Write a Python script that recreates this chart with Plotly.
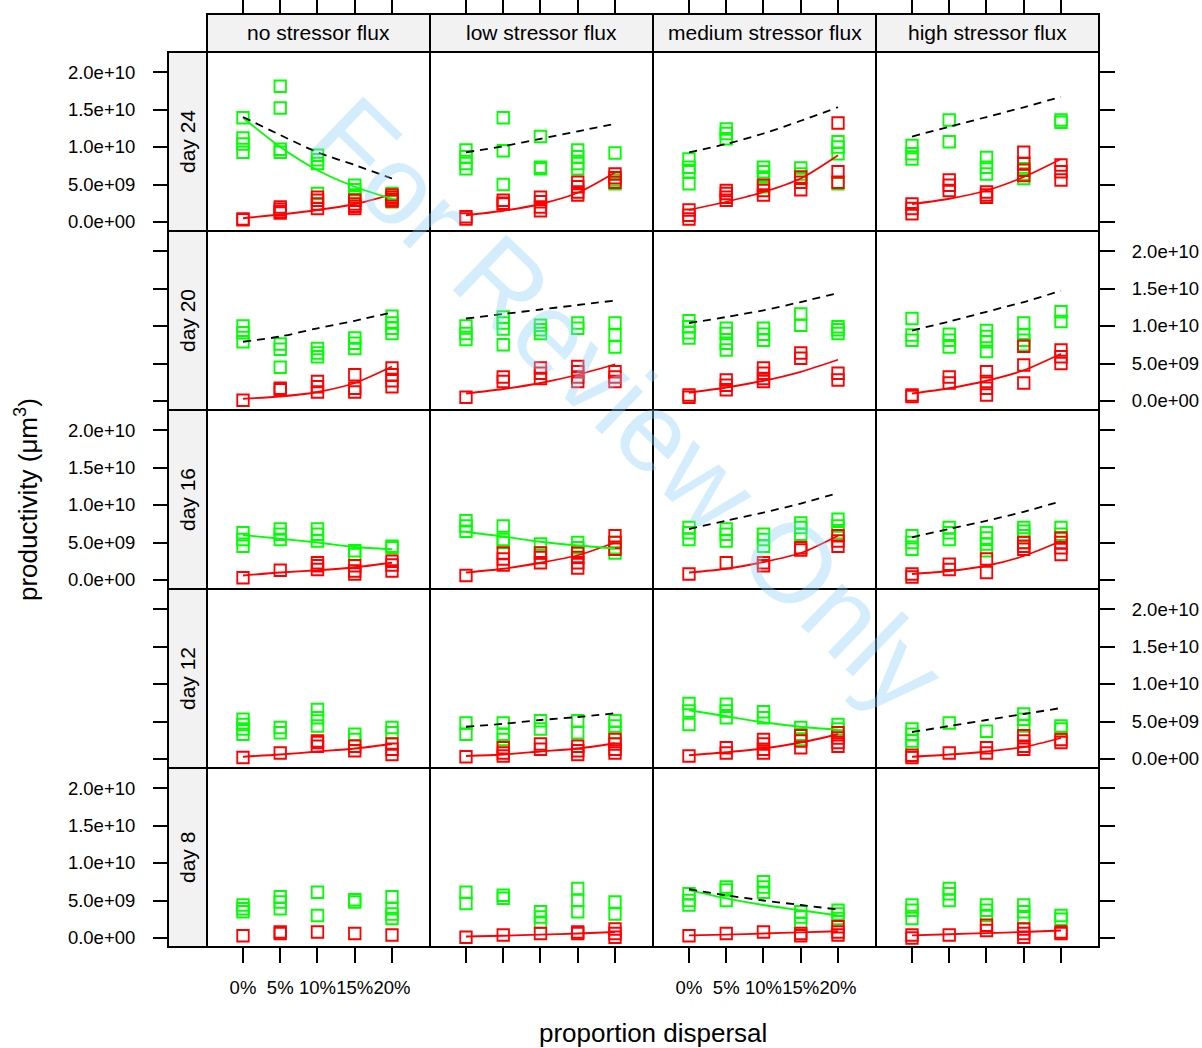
import plotly.graph_objects as go

# ---------------- data (values in units of 1e9 µm^3) ----------------
DAYS = ["day 24", "day 20", "day 16", "day 12", "day 8"]
FLUXES = ["no stressor flux", "low stressor flux", "medium stressor flux", "high stressor flux"]
DISPERSAL = [0, 5, 10, 15, 20]
DISPERSAL_LABELS = ["0%", "5%", "10%", "15%", "20%"]
Y_TICKS = [0, 5e9, 1e10, 1.5e10, 2e10]
Y_TICK_LABELS = ["0.0e+00", "5.0e+09", "1.0e+10", "1.5e+10", "2.0e+10"]
UNIT = 1e9

# observed points: [flux][dispersal level] -> replicate values
GREEN_D24 = [
    [[13.9, 11.2, 10.4, 9.3], [18.1, 15.2, 9.7, 9.3], [8.9, 8.3, 7.8, 3.8], [4.9, 4.3, 3.6, 3.0], [3.8, 3.3, 3.0, 2.7]],
    [[9.6, 8.7, 7.8, 7.1], [13.9, 9.5, 5.0], [11.4, 7.3, 7.1], [9.6, 8.7, 7.8, 7.1], [9.2, 5.6, 5.1]],
    [[8.4, 7.3, 6.7, 5.1], [12.4, 11.8, 11.1], [7.3, 6.7, 6.0, 4.7], [7.2, 6.4, 5.8], [10.7, 10.0, 9.1, 5.1]],
    [[10.2, 9.1, 8.4], [13.6, 10.7], [8.6, 7.3, 6.4], [7.8, 7.1, 6.4, 5.8], [13.6, 13.3]],
]
RED_D24 = [
    [[0.3, 0.4], [2.0, 1.7, 1.4, 1.2], [3.3, 2.9, 2.4, 1.8], [2.9, 2.4, 2.1, 1.8], [3.6, 3.3, 3.0, 2.8]],
    [[0.7, 0.4], [2.9, 2.5, 2.4], [3.3, 2.7, 2.0, 1.5], [5.3, 4.7, 4.0, 3.6], [6.4, 5.9, 5.3]],
    [[1.6, 0.9, 0.4], [4.2, 3.8, 3.3, 2.9], [4.9, 4.2, 3.6], [6.0, 5.3, 4.3], [13.2, 6.7, 5.3]],
    [[2.4, 1.8, 1.1], [5.6, 4.9, 4.2], [4.0, 3.6, 3.3], [9.3, 7.8, 6.9, 6.2], [7.6, 6.7, 5.6]],
]
GREEN_D20 = [
    [[10.0, 9.1, 7.9], [7.6, 6.9, 4.5], [7.0, 6.4, 5.9], [8.4, 7.7, 7.0], [11.3, 10.4, 9.7, 9.0]],
    [[10.0, 9.0, 8.2], [11.2, 10.4, 9.6, 7.5], [10.1, 9.5, 9.0], [10.4, 9.7], [10.4, 8.8, 7.2]],
    [[10.7, 9.9, 9.1, 8.4], [9.7, 9.0, 7.7, 6.8], [9.7, 8.9, 8.1], [11.6, 10.1], [9.9, 9.5, 9.0]],
    [[11.0, 8.8, 8.1], [8.9, 8.1, 7.2], [9.4, 8.6, 7.9, 6.6], [10.4, 8.8, 8.1, 7.5], [11.9, 10.6]],
]
RED_D20 = [
    [[0.1], [1.7, 1.5], [2.6, 1.9, 1.2], [3.5, 1.7, 1.2], [4.4, 3.5, 2.7, 1.9]],
    [[0.5], [3.2, 2.6], [4.4, 3.7, 3.0], [4.6, 3.9, 3.2, 2.6], [3.9, 3.2, 2.6]],
    [[0.8, 0.5], [2.8, 2.1, 1.5], [4.4, 3.7, 3.0, 2.6], [6.4, 5.7], [3.7, 2.8]],
    [[0.8, 0.6], [3.2, 2.4], [3.9, 2.6, 1.7, 0.8], [7.3, 4.8, 2.4], [6.8, 5.9, 5.0]],
]
GREEN_D16 = [
    [[6.3, 5.4, 4.5], [6.8, 6.1, 5.4], [6.8, 6.1, 5.2], [3.9, 3.4], [4.5, 4.3]],
    [[7.9, 7.2, 6.5], [7.2, 5.4, 5.0], [4.8, 3.6], [5.0, 4.3], [5.0, 4.3, 3.6]],
    [[7.0, 6.3, 5.4], [6.8, 6.1, 5.2], [6.1, 5.4, 4.5], [7.6, 7.0, 6.1], [8.1, 7.2, 6.3]],
    [[5.9, 5.0, 4.1], [7.0, 6.3, 5.4], [6.3, 5.6, 4.8, 3.9], [7.0, 6.5, 5.9, 5.0], [7.0, 6.1]],
]
RED_D16 = [
    [[0.3], [1.3], [2.3, 1.9, 1.4], [1.9, 1.2, 0.8], [2.5, 2.0, 1.2]],
    [[0.6], [3.6, 2.8, 2.0], [3.6, 3.0, 2.3], [3.6, 3.0, 2.3, 1.6], [5.9, 5.0, 4.1]],
    [[0.8], [2.3], [2.3, 1.9], [4.3, 4.0], [5.9, 5.2, 4.5]],
    [[0.8, 0.4], [2.1, 1.4], [2.8, 1.0], [5.0, 4.5, 4.1], [5.6, 5.0, 4.3, 3.4]],
]
GREEN_D12 = [
    [[5.3, 4.6, 4.0, 3.3], [4.2, 3.5], [6.6, 5.5, 4.4], [3.3, 2.6], [4.2, 3.5]],
    [[4.8, 3.3], [4.8, 3.3, 2.6], [5.1, 4.0], [5.1, 3.5], [5.1, 4.4, 3.5]],
    [[7.4, 6.4, 4.6], [7.3, 6.4, 5.5], [6.3, 5.5], [4.2, 3.3, 2.6], [4.6, 4.0]],
    [[4.0, 3.3, 2.4, 1.7], [4.8], [3.7], [6.0, 5.3, 4.4], [4.4, 4.0]],
]
RED_D12 = [
    [[0.2], [0.8], [2.4, 2.2, 1.7], [1.7, 1.1], [2.0, 1.3, 0.6]],
    [[0.3], [1.5, 0.8, 0.4], [2.0, 1.3], [1.7, 1.1, 0.6], [2.6, 2.0, 1.3, 0.8]],
    [[0.4], [1.5, 0.8], [2.6, 2.0, 1.3, 0.8], [3.1, 2.4, 1.5], [3.5, 2.8, 2.2, 1.7]],
    [[0.5, 0.2], [0.8], [1.5, 0.8], [3.1, 2.4, 1.7, 1.3], [2.6, 2.2]],
]
GREEN_D8 = [
    [[4.4, 3.9, 3.5], [5.5, 4.8, 3.9], [6.1, 3.0], [5.1, 4.8], [5.5, 3.9, 3.2, 2.6]],
    [[6.1, 4.6], [5.7, 5.3], [3.5, 2.8, 2.1], [6.6, 5.0, 3.5], [4.8, 3.2]],
    [[5.9, 5.0, 4.4], [6.8, 6.4, 5.0], [7.5, 6.8, 6.1], [3.5, 2.8, 1.9], [3.7, 3.2, 2.6]],
    [[4.4, 3.7, 2.6], [6.6, 5.9, 5.0], [4.4, 3.7, 3.0], [4.4, 3.5, 2.7], [3.0, 2.5]],
]
RED_D8 = [
    [[0.3], [0.8, 0.6], [0.8], [0.6], [0.4]],
    [[0.1], [0.4], [0.6], [0.8, 0.6], [1.2, 0.6, 0.1]],
    [[0.3], [0.6], [0.8], [0.6, 0.3], [1.5, 0.8, 0.4]],
    [[0.4, 0.0], [0.4], [1.7, 1.0], [1.2, 0.6, 0.1], [0.8, 0.6]],
]

# fitted curves read at each dispersal level: [flux] -> 5 values (None = no curve)
RED_FIT_D24 = [[0.5, 1.0, 1.6, 2.4, 3.7], [0.9, 1.5, 2.4, 3.9, 6.6], [1.6, 2.7, 4.0, 5.8, 8.9], [2.4, 3.1, 4.2, 6.0, 8.4]]
GREEN_FIT_D24 = [[13.9, 10.0, 6.9, 4.7, 3.1], None, None, None]
DASH_FIT_D24 = [[14.0, 11.6, 9.3, 7.6, 5.8], [9.3, 10.1, 11.1, 12.1, 13.1], [9.3, 10.4, 11.8, 13.5, 15.3], [11.4, 12.7, 14.0, 15.3, 16.7]]

RED_FIT_D20 = [[0.3, 0.6, 1.2, 2.4, 4.6], [1.0, 1.6, 2.4, 3.5, 4.9], [1.1, 1.8, 2.7, 3.9, 5.5], [1.0, 1.7, 2.7, 4.1, 6.3]]
GREEN_FIT_D20 = [None, None, None, None]
DASH_FIT_D20 = [[7.9, 8.6, 9.7, 10.7, 11.8], [11.0, 11.6, 12.2, 12.8, 13.4], [10.4, 11.2, 12.1, 13.2, 14.4], [9.4, 10.6, 11.9, 13.2, 14.7]]

RED_FIT_D16 = [[0.6, 1.0, 1.3, 1.7, 2.3], [1.0, 1.5, 2.3, 3.3, 5.0], [1.0, 1.5, 2.4, 3.6, 5.9], [0.8, 1.2, 1.9, 3.2, 5.2]]
GREEN_FIT_D16 = [[6.0, 5.5, 5.0, 4.4, 4.1], [6.4, 5.8, 5.1, 4.6, 4.2], None, None]
DASH_FIT_D16 = [None, None, [6.8, 7.9, 9.0, 10.2, 11.6], [5.7, 6.8, 7.9, 9.1, 10.5]]

RED_FIT_D12 = [[0.3, 0.6, 1.0, 1.4, 2.0], [0.4, 0.6, 1.0, 1.4, 2.1], [0.5, 0.9, 1.4, 2.2, 3.3], [0.3, 0.6, 1.0, 1.6, 2.8]]
GREEN_FIT_D12 = [None, None, [6.5, 5.7, 4.9, 4.3, 3.9], None]
DASH_FIT_D12 = [None, [4.3, 4.7, 5.2, 5.6, 6.1], None, [3.6, 4.4, 5.2, 6.0, 6.8]]

RED_FIT_D8 = [None, [0.2, 0.3, 0.45, 0.6, 0.8], [0.35, 0.45, 0.6, 0.75, 0.9], [0.35, 0.5, 0.65, 0.8, 1.0]]
GREEN_FIT_D8 = [None, None, [6.4, 5.3, 4.4, 3.7, 3.0], None]
DASH_FIT_D8 = [None, None, [6.5, 5.7, 5.0, 4.4, 3.8], None]

GREEN_PTS = [GREEN_D24, GREEN_D20, GREEN_D16, GREEN_D12, GREEN_D8]
RED_PTS = [RED_D24, RED_D20, RED_D16, RED_D12, RED_D8]
RED_FIT = [RED_FIT_D24, RED_FIT_D20, RED_FIT_D16, RED_FIT_D12, RED_FIT_D8]
GREEN_FIT = [GREEN_FIT_D24, GREEN_FIT_D20, GREEN_FIT_D16, GREEN_FIT_D12, GREEN_FIT_D8]
DASH_FIT = [DASH_FIT_D24, DASH_FIT_D20, DASH_FIT_D16, DASH_FIT_D12, DASH_FIT_D8]

# ---------------- layout geometry ----------------
W, H = 1202, 1048
PL, PR, PT, PB = 168, 1099, 14, 947          # plot area in page px
PANEL_L, PANEL_T = 207, 52
PW, PH = 223, 179
FONT = "Liberation Sans, Arial, Helvetica, sans-serif"
GREEN = "#00FF00"
RED = "#FF0000"


def fx(px):
    return (px - PL) / (PR - PL)


def fy(py):
    return (PB - py) / (PB - PT)


X_RANGE = [-4.83, 25.1]
Y_RANGE = [-1.2e9, 22.67e9]

fig = go.Figure()
layout = dict(
    width=W, height=H,
    margin=dict(l=PL, r=W - PR, t=PT, b=H - PB, pad=0, autoexpand=False),
    paper_bgcolor="white", plot_bgcolor="rgba(0,0,0,0)",
    showlegend=False,
    font=dict(family=FONT, color="black", size=18),
)
shapes = []
annotations = []

for r in range(5):
    for c in range(4):
        k = r * 4 + c + 1
        xs = "x" if k == 1 else f"x{k}"
        ys = "y" if k == 1 else f"y{k}"
        xdom = [fx(PANEL_L + PW * c), fx(PANEL_L + PW * (c + 1))]
        ydom = [fy(PANEL_T + PH * (r + 1)), fy(PANEL_T + PH * r)]

        xa = dict(domain=xdom, range=X_RANGE, anchor=ys, showgrid=False, zeroline=False,
                  showline=False, tickvals=DISPERSAL, ticktext=DISPERSAL_LABELS,
                  ticks="", showticklabels=False, tickcolor="black", tickwidth=1.5,
                  tickangle=0, automargin=False,
                  tickfont=dict(family=FONT, size=18.5, color="black"), fixedrange=True)
        if r == 0:
            xa.update(side="top", anchor="free", position=1, ticks="outside", ticklen=14)
        if r == 4:
            xa.update(side="bottom", ticks="outside", ticklen=15, showticklabels=(c in (0, 2)),
                      ticklabelstandoff=9)
        ya = dict(domain=ydom, range=Y_RANGE, anchor=xs, showgrid=False, zeroline=False,
                  showline=False, tickvals=Y_TICKS, ticktext=Y_TICK_LABELS,
                  ticks="", showticklabels=False, tickcolor="black", tickwidth=1.5,
                  automargin=False,
                  tickfont=dict(family=FONT, size=18.5, color="black"), fixedrange=True)
        if c == 0:
            ya.update(side="left", anchor="free", position=0, ticks="outside", ticklen=15,
                      showticklabels=(r in (0, 2, 4)), ticklabelstandoff=14)
        if c == 3:
            ya.update(side="right", ticks="outside", ticklen=15,
                      showticklabels=(r in (1, 3)), ticklabelstandoff=13)
        layout["xaxis" if k == 1 else f"xaxis{k}"] = xa
        layout["yaxis" if k == 1 else f"yaxis{k}"] = ya

        # points
        for pts, col in ((GREEN_PTS[r][c], GREEN), (RED_PTS[r][c], RED)):
            px_, py_ = [], []
            for d, vals in zip(DISPERSAL, pts):
                for v in vals:
                    px_.append(d)
                    py_.append(v * UNIT)
            fig.add_trace(go.Scatter(
                x=px_, y=py_, mode="markers", xaxis=xs, yaxis=ys,
                marker=dict(symbol="square-open", size=11.5, color=col, line=dict(width=1.8, color=col)),
                hoverinfo="skip"))
        # fitted curves
        for fit, col, dash in ((RED_FIT[r][c], RED, "solid"),
                               (GREEN_FIT[r][c], GREEN, "solid"),
                               (DASH_FIT[r][c], "black", "8px,6px")):
            if fit is None:
                continue
            fig.add_trace(go.Scatter(
                x=DISPERSAL, y=[v * UNIT for v in fit], mode="lines", xaxis=xs, yaxis=ys,
                line=dict(color=col, width=1.8, dash=dash, shape="spline", smoothing=0.8),
                hoverinfo="skip"))

        # panel border
        shapes.append(dict(type="rect", xref="paper", yref="paper",
                           x0=xdom[0], x1=xdom[1], y0=ydom[0], y1=ydom[1],
                           line=dict(color="black", width=2), fillcolor="rgba(0,0,0,0)",
                           layer="above"))

# top strips
for c, name in enumerate(FLUXES):
    x0, x1 = fx(PANEL_L + PW * c), fx(PANEL_L + PW * (c + 1))
    shapes.append(dict(type="rect", xref="paper", yref="paper", x0=x0, x1=x1,
                       y0=fy(PANEL_T), y1=1, fillcolor="#F2F2F2",
                       line=dict(color="black", width=2), layer="below"))
    annotations.append(dict(text=name, xref="paper", yref="paper", x=(x0 + x1) / 2,
                            y=(fy(PANEL_T) + 1) / 2, showarrow=False,
                            font=dict(family=FONT, size=21, color="black"),
                            xanchor="center", yanchor="middle"))
# left strips
for r, name in enumerate(DAYS):
    y0, y1 = fy(PANEL_T + PH * (r + 1)), fy(PANEL_T + PH * r)
    shapes.append(dict(type="rect", xref="paper", yref="paper", x0=0, x1=fx(PANEL_L),
                       y0=y0, y1=y1, fillcolor="#F2F2F2",
                       line=dict(color="black", width=2), layer="below"))
    annotations.append(dict(text=name, xref="paper", yref="paper", x=fx(PANEL_L) / 2,
                            y=(y0 + y1) / 2, showarrow=False, textangle=-90,
                            font=dict(family=FONT, size=21, color="black"),
                            xanchor="center", yanchor="middle"))

# axis titles
annotations.append(dict(text="proportion dispersal", xref="paper", yref="paper",
                        x=fx(653), y=fy(1033), showarrow=False,
                        font=dict(family=FONT, size=26, color="black"),
                        xanchor="center", yanchor="middle"))
annotations.append(dict(text="productivity (μm<sup>3</sup>)", xref="paper", yref="paper",
                        x=fx(26), y=fy(500), showarrow=False, textangle=-90,
                        font=dict(family=FONT, size=26, color="black"),
                        xanchor="center", yanchor="middle"))
# watermark
annotations.append(dict(text="For Review Only", xref="paper", yref="paper",
                        x=fx(628), y=fy(405), showarrow=False, textangle=44,
                        font=dict(family=FONT, size=112, color="rgba(135,206,250,0.36)"),
                        xanchor="center", yanchor="middle"))

layout["shapes"] = shapes
layout["annotations"] = annotations
fig.update_layout(**layout)
fig.write_html("out.html", config={"displayModeBar": False},
               post_script="document.body.style.margin='0';document.body.style.overflow='hidden';")
